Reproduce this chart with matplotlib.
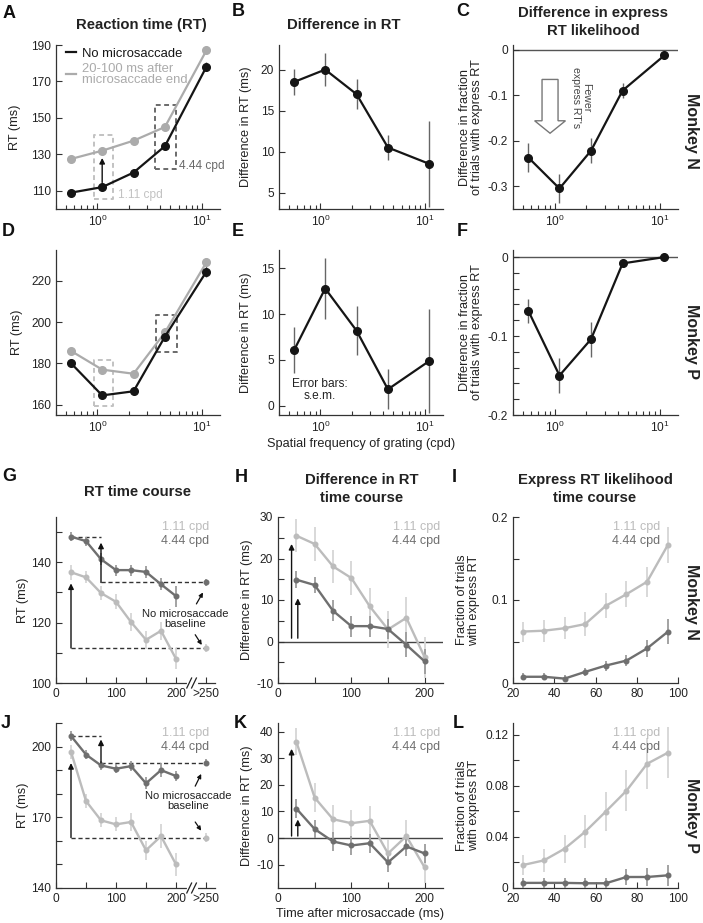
import numpy as np
import matplotlib
matplotlib.use('Agg')
import matplotlib.pyplot as plt
from matplotlib.ticker import FixedLocator, LogLocator, NullFormatter
from matplotlib.lines import Line2D
from matplotlib.patches import Polygon

plt.rcParams['font.family'] = ['Liberation Sans', 'DejaVu Sans']
plt.rcParams['mathtext.fontset'] = 'custom'
plt.rcParams['mathtext.rm'] = 'Liberation Sans'
plt.rcParams['axes.unicode_minus'] = False

# ---------------- data ----------------
sf = [0.56, 1.11, 2.22, 4.44, 11.1]
a_no = [109, 112, 120, 134.5, 178]
a_no_err = [0.8, 0.8, 1.0, 1.2, 2.5]
a_ms = [127.5, 132, 137.5, 145, 187]
a_ms_err = [0.8, 0.8, 1.0, 1.2, 1.5]
b_diff = [18.5, 20.0, 17.0, 10.5, 8.5]
b_err = [1.6, 2.0, 1.8, 1.5, 5.2]
c_diff = [-0.237, -0.305, -0.222, -0.090, -0.013]
c_err = [0.031, 0.032, 0.027, 0.017, 0.005]
d_no = [180, 164.5, 166.5, 193, 224.5]
d_no_err = [1.0, 1.0, 1.0, 1.2, 2.5]
d_ms = [186, 177, 175, 195, 229]
d_ms_err = [0.8, 0.8, 0.8, 1.2, 2.0]
e_diff = [6.1, 12.8, 8.2, 1.8, 4.9]
e_err = [2.5, 3.3, 2.7, 2.2, 5.7]
f_diff = [-0.068, -0.150, -0.104, -0.008, 0.0]
f_err = [0.015, 0.022, 0.022, 0.005, 0.002]

t = [25, 50, 75, 100, 125, 150, 175, 200]
t_base = 250
g_light = [136.7, 135.0, 129.8, 126.9, 120.2, 114.3, 117.3, 108.0]
g_light_err = [2.5, 2.0, 2.2, 2.5, 3.0, 3.0, 3.0, 3.5]
g_light_base, g_light_base_err = 111.6, 1.2
g_dark = [148.5, 147.0, 141.0, 137.4, 137.4, 136.8, 132.7, 128.8]
g_dark_err = [1.5, 1.5, 2.0, 1.8, 1.8, 2.0, 2.0, 3.5]
g_dark_base, g_dark_base_err = 133.3, 1.0

h_light = [25.5, 23.5, 18.1, 15.3, 8.5, 2.9, 5.7, -3.8]
h_light_err = [4.0, 4.0, 4.0, 4.0, 4.5, 4.5, 5.0, 5.0]
h_dark = [14.9, 13.6, 7.4, 3.7, 3.7, 3.0, -0.8, -4.8]
h_dark_err = [2.0, 2.0, 2.5, 2.5, 2.5, 2.5, 3.0, 3.0]

ti = [25, 35, 45, 55, 65, 75, 85, 95]
i_light = [0.062, 0.063, 0.066, 0.071, 0.093, 0.107, 0.122, 0.166]
i_light_err = [0.012, 0.013, 0.013, 0.014, 0.015, 0.016, 0.018, 0.022]
i_dark = [0.0075, 0.0075, 0.0053, 0.0134, 0.021, 0.027, 0.0417, 0.0616]
i_dark_err = [0.004, 0.004, 0.004, 0.005, 0.006, 0.007, 0.010, 0.015]

j_light = [197.8, 176.9, 168.7, 167.0, 168.0, 156.0, 162.0, 150.0]
j_light_err = [3.0, 3.0, 3.0, 3.0, 4.0, 4.0, 5.0, 5.0]
j_light_base, j_light_base_err = 161.4, 2.0
j_dark = [204.5, 196.6, 192.0, 190.6, 191.7, 184.4, 190.0, 187.5]
j_dark_err = [2.0, 2.0, 2.0, 2.0, 2.0, 2.5, 3.0, 2.0]
j_dark_base, j_dark_base_err = 193.1, 1.5

k_light = [36.2, 15.2, 7.1, 5.6, 6.5, -5.75, 0.75, -11.0]
k_light_err = [5.0, 5.5, 5.5, 5.0, 5.5, 5.5, 6.0, 6.0]
k_dark = [11.1, 3.4, -1.25, -2.75, -1.9, -9.1, -3.1, -5.75]
k_dark_err = [3.5, 3.5, 3.5, 3.5, 3.5, 3.5, 3.5, 3.5]

l_light = [0.018, 0.0216, 0.0307, 0.044, 0.0598, 0.076, 0.0971, 0.1057]
l_light_err = [0.008, 0.009, 0.011, 0.013, 0.015, 0.016, 0.020, 0.020]
l_dark = [0.004, 0.004, 0.004, 0.0037, 0.0037, 0.0086, 0.0086, 0.0099]
l_dark_err = [0.004, 0.004, 0.004, 0.004, 0.004, 0.006, 0.007, 0.008]

# ---------------- style ----------------
BLACK = '#151515'
GRAY = '#ababab'
EBAR = '#666666'
LIGHT = '#bcbcbc'
LIGHT_E = '#d6d6d6'
DARK = '#6f6f6f'
DARK_E = '#9c9c9c'
LBOX = '#c2c2c2'
DBOX = '#6a6a6a'
TICK_FS = 8.6
LAB_FS = 9.2

W, H = 703, 923
fig = plt.figure(figsize=(W / 100, H / 100), dpi=100)


def add_ax(l, t_, r, b):
    return fig.add_axes([l / W, 1 - b / H, (r - l) / W, (b - t_) / H])


def style(ax):
    for s in ['top', 'right']:
        ax.spines[s].set_visible(False)
    for s in ['left', 'bottom']:
        ax.spines[s].set_linewidth(0.9)
        ax.spines[s].set_color('#333333')
    ax.tick_params(which='both', direction='in', labelsize=TICK_FS,
                   colors='#333333', labelcolor='#222222', pad=3.5)
    ax.tick_params(which='major', length=4.5, width=0.8)
    ax.tick_params(which='minor', length=3.0, width=0.8)


def sf_axis(ax):
    style(ax)
    ax.set_xscale('log')
    ax.set_xlim(0.4, 15)
    ax.xaxis.set_major_locator(LogLocator(base=10, numticks=10))
    ax.xaxis.set_minor_locator(LogLocator(base=10, subs=np.arange(2, 10), numticks=10))
    ax.xaxis.set_minor_formatter(NullFormatter())


def yticks(ax, major, labels, minor=None):
    ax.set_yticks(major)
    ax.set_yticklabels(labels)
    if minor is not None:
        ax.yaxis.set_minor_locator(FixedLocator(minor))
        ax.tick_params(axis='y', which='minor', length=4.5)


def ylab(ax, text, x, ls=1.0):
    ax.set_ylabel(text, fontsize=LAB_FS, linespacing=ls, color='#222222', va='center')
    ax.yaxis.set_label_coords(x, 0.5)


def sf_series(ax, y, e, color, ecolor=EBAR):
    ax.errorbar(sf, y, yerr=e, color=color, ecolor=ecolor, elinewidth=1.0,
                lw=1.6, marker='o', ms=5.5, capsize=0, zorder=3)


def tc_series(ax, x, y, e, color, ecolor):
    ax.errorbar(x, y, yerr=e, color=color, ecolor=ecolor, elinewidth=1.3,
                lw=1.7, marker='o', ms=3.3, capsize=0, zorder=3)


def arrow(ax, x0, y0, x1, y1, ms=8, lw=1.0):
    ax.annotate('', xy=(x1, y1), xytext=(x0, y0),
                arrowprops=dict(arrowstyle='-|>', color='#111111', lw=lw,
                                mutation_scale=ms, shrinkA=0, shrinkB=0), zorder=6)


def ftext(x, y, s, **kw):
    fig.text(x / W, 1 - y / H, s, **kw)


# ---------------- A ----------------
axA = add_ax(56, 45, 220, 209)
sf_axis(axA)
axA.set_ylim(100, 190)
yticks(axA, [110, 130, 150, 170, 190], ['110', '130', '150', '170', '190'])
axA.plot([0.92, 1.42, 1.42, 0.92, 0.92], [105.6, 105.6, 140.7, 140.7, 105.6],
         ls=(0, (2.5, 1.8)), color=LBOX, lw=1.4, zorder=2)
axA.plot([3.57, 5.62, 5.62, 3.57, 3.57], [122, 122, 157, 157, 122],
         ls=(0, (2.5, 1.8)), color=DBOX, lw=1.4, zorder=2)
sf_series(axA, a_ms, a_ms_err, GRAY, ecolor='#999999')
sf_series(axA, a_no, a_no_err, BLACK)
arrow(axA, 1.11, 114.5, 1.11, 128)
axA.text(1.58, 107.8, '1.11 cpd', fontsize=TICK_FS, color=LBOX, va='center')
axA.text(6.04, 123.7, '4.44 cpd', fontsize=TICK_FS, color=DBOX, va='center')
leg = axA.legend(handles=[Line2D([0], [0], color=BLACK, lw=1.6),
                          Line2D([0], [0], color=GRAY, lw=1.6)],
                 labels=['No microsaccade', '20-100 ms after\nmicrosaccade end'],
                 loc='upper left', bbox_to_anchor=(0.03, 1.015), frameon=False,
                 handlelength=0.75, handletextpad=0.45, fontsize=9.4,
                 labelspacing=0.2, borderaxespad=0)
leg.get_texts()[0].set_color(BLACK)
leg.get_texts()[1].set_color(GRAY)
for txt in leg.get_texts():
    txt.set_linespacing(0.95)
ylab(axA, 'RT (ms)', -0.25)

# ---------------- B ----------------
axB = add_ax(279, 45, 443, 209)
sf_axis(axB)
axB.set_ylim(3, 23)
yticks(axB, [5, 10, 15, 20], ['5', '10', '15', '20'])
sf_series(axB, b_diff, b_err, BLACK)
ylab(axB, 'Difference in RT (ms)', -0.2)

# ---------------- C ----------------
axC = add_ax(513, 45, 678, 209)
sf_axis(axC)
axC.set_ylim(-0.35, 0.01)
yticks(axC, [-0.3, -0.2, -0.1, 0], ['-0.3', '-0.2', '-0.1', '0'])
axC.axhline(0, color='#555555', lw=1.0, zorder=1)
sf_series(axC, c_diff, c_err, BLACK)
poly = Polygon([(0.176, 0.79), (0.273, 0.79), (0.273, 0.538), (0.318, 0.538),
                (0.2245, 0.462), (0.131, 0.538), (0.176, 0.538)], closed=True,
               transform=axC.transAxes, facecolor='white', edgecolor='#777777', lw=1.0)
axC.add_patch(poly)
axC.text(0.41, 0.68, "Fewer\nexpress RT's", transform=axC.transAxes, rotation=-90,
         ha='center', va='center', fontsize=7.6, color='#444444', linespacing=1.0)
ylab(axC, 'Difference in fraction\nof trials with express RT', -0.255)

# ---------------- D ----------------
axD = add_ax(56, 250, 220, 415)
sf_axis(axD)
axD.set_ylim(155, 235)
yticks(axD, [160, 180, 200, 220], ['160', '180', '200', '220'])
axD.plot([0.92, 1.42, 1.42, 0.92, 0.92], [159.2, 159.2, 181.5, 181.5, 159.2],
         ls=(0, (2.5, 1.8)), color=LBOX, lw=1.4, zorder=2)
axD.plot([3.65, 5.75, 5.75, 3.65, 3.65], [185.5, 185.5, 203.4, 203.4, 185.5],
         ls=(0, (2.5, 1.8)), color=DBOX, lw=1.4, zorder=2)
sf_series(axD, d_ms, d_ms_err, GRAY, ecolor='#999999')
sf_series(axD, d_no, d_no_err, BLACK)
ylab(axD, 'RT (ms)', -0.24)

# ---------------- E ----------------
axE = add_ax(279, 250, 443, 415)
sf_axis(axE)
axE.set_ylim(-1, 17)
yticks(axE, [0, 5, 10, 15], ['0', '5', '10', '15'])
sf_series(axE, e_diff, e_err, BLACK)
axE.text(0.25, 0.15, 'Error bars:\ns.e.m.', transform=axE.transAxes, ha='center',
         va='center', fontsize=8.6, color='#222222', linespacing=1.0)
ylab(axE, 'Difference in RT (ms)', -0.2)
axE.set_xlabel('Spatial frequency of grating (cpd)', fontsize=LAB_FS, color='#222222', labelpad=2)

# ---------------- F ----------------
axF = add_ax(513, 250, 678, 415)
sf_axis(axF)
axF.set_ylim(-0.2, 0.009)
yticks(axF, [-0.2, -0.1, 0], ['-0.2', '-0.1', '0'],
       minor=[-0.18, -0.16, -0.14, -0.12, -0.08, -0.06, -0.04, -0.02])
axF.axhline(0, color='#555555', lw=1.0, zorder=1)
sf_series(axF, f_diff, f_err, BLACK)
ylab(axF, 'Difference in fraction\nof trials with express RT', -0.255)


# ---------------- time course RT panels ----------------
def rt_panel(ax, light, le, lb, lbe, dark, de, db, dbe, ylim, major, labels, minor,
             light_tip, dark_tip, txt_xy, a1, a2):
    style(ax)
    ax.set_xlim(0, 265)
    ax.set_ylim(*ylim)
    ax.set_xticks([0, 100, 200, 250])
    ax.set_xticklabels(['0', '100', '200', '>250'])
    ax.xaxis.set_minor_locator(FixedLocator([50, 150]))
    ax.tick_params(axis='x', which='minor', length=4.5)
    yticks(ax, major, labels, minor)
    dash = dict(color='#333333', lw=1.0, ls=(0, (3, 2)), zorder=2)
    ax.plot([t[0], t_base], [lb, lb], **dash)
    ax.plot([t[2], t_base], [db, db], **dash)
    ax.plot([t[0], t[2]], [dark[0], dark[0]], **dash)
    tc_series(ax, t, light, le, LIGHT, LIGHT_E)
    tc_series(ax, t, dark, de, DARK, DARK_E)
    ax.errorbar([t_base], [lb], yerr=[lbe], color=LIGHT, ecolor=LIGHT_E, marker='o',
                ms=3.3, elinewidth=1.3, capsize=0, zorder=3)
    ax.errorbar([t_base], [db], yerr=[dbe], color=DARK, ecolor=DARK_E, marker='o',
                ms=3.3, elinewidth=1.3, capsize=0, zorder=3)
    arrow(ax, t[0], lb, t[0], light_tip)
    arrow(ax, t[2], db, t[2], dark_tip)
    ax.text(txt_xy[0], txt_xy[1], 'No microsaccade\nbaseline', ha='center', va='center',
            fontsize=8.0, color='#222222', linespacing=1.05)
    arrow(ax, *a1, ms=6, lw=0.9)
    arrow(ax, *a2, ms=6, lw=0.9)
    ax.text(0.965, 0.94, '1.11 cpd', transform=ax.transAxes, ha='right', va='center',
            fontsize=9, color=LIGHT)
    ax.text(0.965, 0.855, '4.44 cpd', transform=ax.transAxes, ha='right', va='center',
            fontsize=9, color=DARK)
    tr = ax.get_xaxis_transform()
    ax.plot([221, 233], [0, 0], color='white', lw=3, transform=tr, clip_on=False, zorder=5)
    for xc in [222, 230]:
        ax.plot([xc - 4, xc + 4], [-0.03, 0.03], color='#222222', lw=0.9,
                transform=tr, clip_on=False, zorder=6)


axG = add_ax(56, 517, 215, 683)
rt_panel(axG, g_light, g_light_err, g_light_base, g_light_base_err,
         g_dark, g_dark_err, g_dark_base, g_dark_base_err,
         (100, 155), [100, 120, 140], ['100', '120', '140'], [110, 130, 150],
         133.0, 146.5, (215, 121.2),
         (234, 126.2, 245, 130.0), (232, 116.0, 243, 112.6))
ylab(axG, 'RT (ms)', -0.21)

axJ = add_ax(56, 723, 215, 888)
rt_panel(axJ, j_light, j_light_err, j_light_base, j_light_base_err,
         j_dark, j_dark_err, j_dark_base, j_dark_base_err,
         (140, 210), [140, 170, 200], ['140', '170', '200'], [150, 160, 180, 190, 210],
         193.0, 203.0, (220, 177.0),
         (232, 183.2, 242, 188.4), (232, 168.0, 242, 164.3))
ylab(axJ, 'RT (ms)', -0.21)


# ---------------- difference time course ----------------
def diff_panel(ax, light, le, dark, de, ylim, major, labels, minor, long_tip, short_tip):
    style(ax)
    ax.set_xlim(0, 225)
    ax.set_ylim(*ylim)
    ax.set_xticks([0, 100, 200])
    ax.set_xticklabels(['0', '100', '200'])
    ax.xaxis.set_minor_locator(FixedLocator([50, 150]))
    ax.tick_params(axis='x', which='minor', length=4.5)
    yticks(ax, major, labels, minor)
    ax.axhline(0, color='#444444', lw=1.0, zorder=1)
    tc_series(ax, t, light, le, LIGHT, LIGHT_E)
    tc_series(ax, t, dark, de, DARK, DARK_E)
    arrow(ax, 18.5, 0.8, 18.5, long_tip)
    arrow(ax, 27, 0.8, 27, short_tip)
    ax.text(0.985, 0.94, '1.11 cpd', transform=ax.transAxes, ha='right', va='center',
            fontsize=9, color=LIGHT)
    ax.text(0.985, 0.855, '4.44 cpd', transform=ax.transAxes, ha='right', va='center',
            fontsize=9, color=DARK)
    ylab(ax, 'Difference in RT (ms)', -0.19)


axH = add_ax(278, 517, 443, 683)
diff_panel(axH, h_light, h_light_err, h_dark, h_dark_err, (-10, 30),
           [-10, 0, 10, 20, 30], ['-10', '0', '10', '20', '30'], [-5, 5, 15, 25],
           23.5, 10.4)

axK = add_ax(278, 723, 443, 888)
diff_panel(axK, k_light, k_light_err, k_dark, k_dark_err, (-18.7, 43.2),
           [-10, 0, 10, 20, 30, 40], ['-10', '0', '10', '20', '30', '40'], None,
           33.5, 7.0)
axK.set_xlabel('Time after microsaccade (ms)', fontsize=LAB_FS, color='#222222', labelpad=2)


# ---------------- express likelihood time course ----------------
def frac_panel(ax, light, le, dark, de, ylim, major, labels, minor):
    style(ax)
    ax.set_xlim(20, 100)
    ax.set_ylim(*ylim)
    ax.set_xticks([20, 40, 60, 80, 100])
    ax.set_xticklabels(['20', '40', '60', '80', '100'])
    yticks(ax, major, labels, minor)
    tc_series(ax, ti, light, le, LIGHT, LIGHT_E)
    tc_series(ax, ti, dark, de, DARK, DARK_E)
    ax.text(0.89, 0.94, '1.11 cpd', transform=ax.transAxes, ha='right', va='center',
            fontsize=9, color=LIGHT)
    ax.text(0.89, 0.855, '4.44 cpd', transform=ax.transAxes, ha='right', va='center',
            fontsize=9, color=DARK)
    ylab(ax, 'Fraction of trials\nwith express RT', -0.27)


axI = add_ax(513, 517, 678, 683)
frac_panel(axI, i_light, i_light_err, i_dark, i_dark_err, (0, 0.2),
           [0, 0.1, 0.2], ['0', '0.1', '0.2'], [0.05, 0.15])

axL = add_ax(513, 723, 678, 888)
frac_panel(axL, l_light, l_light_err, l_dark, l_dark_err, (0, 0.129),
           [0, 0.04, 0.08, 0.12], ['0', '0.04', '0.08', '0.12'], [0.02, 0.06, 0.10])

# ---------------- titles, letters, monkey labels ----------------
tkw = dict(ha='center', va='center', fontsize=10.7, fontweight='bold', color='#222222',
           linespacing=1.3)
ftext(141, 25, 'Reaction time (RT)', **tkw)
ftext(344, 25, 'Difference in RT', **tkw)
ftext(593, 22, 'Difference in express\nRT likelihood', **tkw)
ftext(137, 492, 'RT time course', **tkw)
ftext(362, 489, 'Difference in RT\ntime course', **tkw)
ftext(595, 489, 'Express RT likelihood\ntime course', **tkw)

lkw = dict(ha='center', va='center', fontsize=13, fontweight='bold', color='#111111')
for s, x, y in [('A', 9, 13), ('B', 238, 12), ('C', 463, 12),
                ('D', 8, 231), ('E', 238, 231), ('F', 462, 231),
                ('G', 9, 476), ('H', 241, 478), ('I', 454, 478),
                ('J', 6, 724), ('K', 240, 724), ('L', 458, 724)]:
    ftext(x, y, s, **lkw)

mkw = dict(ha='center', va='center', fontsize=11.5, fontweight='bold', color='#222222',
           rotation=-90)
ftext(692, 131, 'Monkey N', **mkw)
ftext(692, 342, 'Monkey P', **mkw)
ftext(692, 602, 'Monkey N', **mkw)
ftext(692, 815, 'Monkey P', **mkw)

fig.savefig('out.png', dpi=100)
